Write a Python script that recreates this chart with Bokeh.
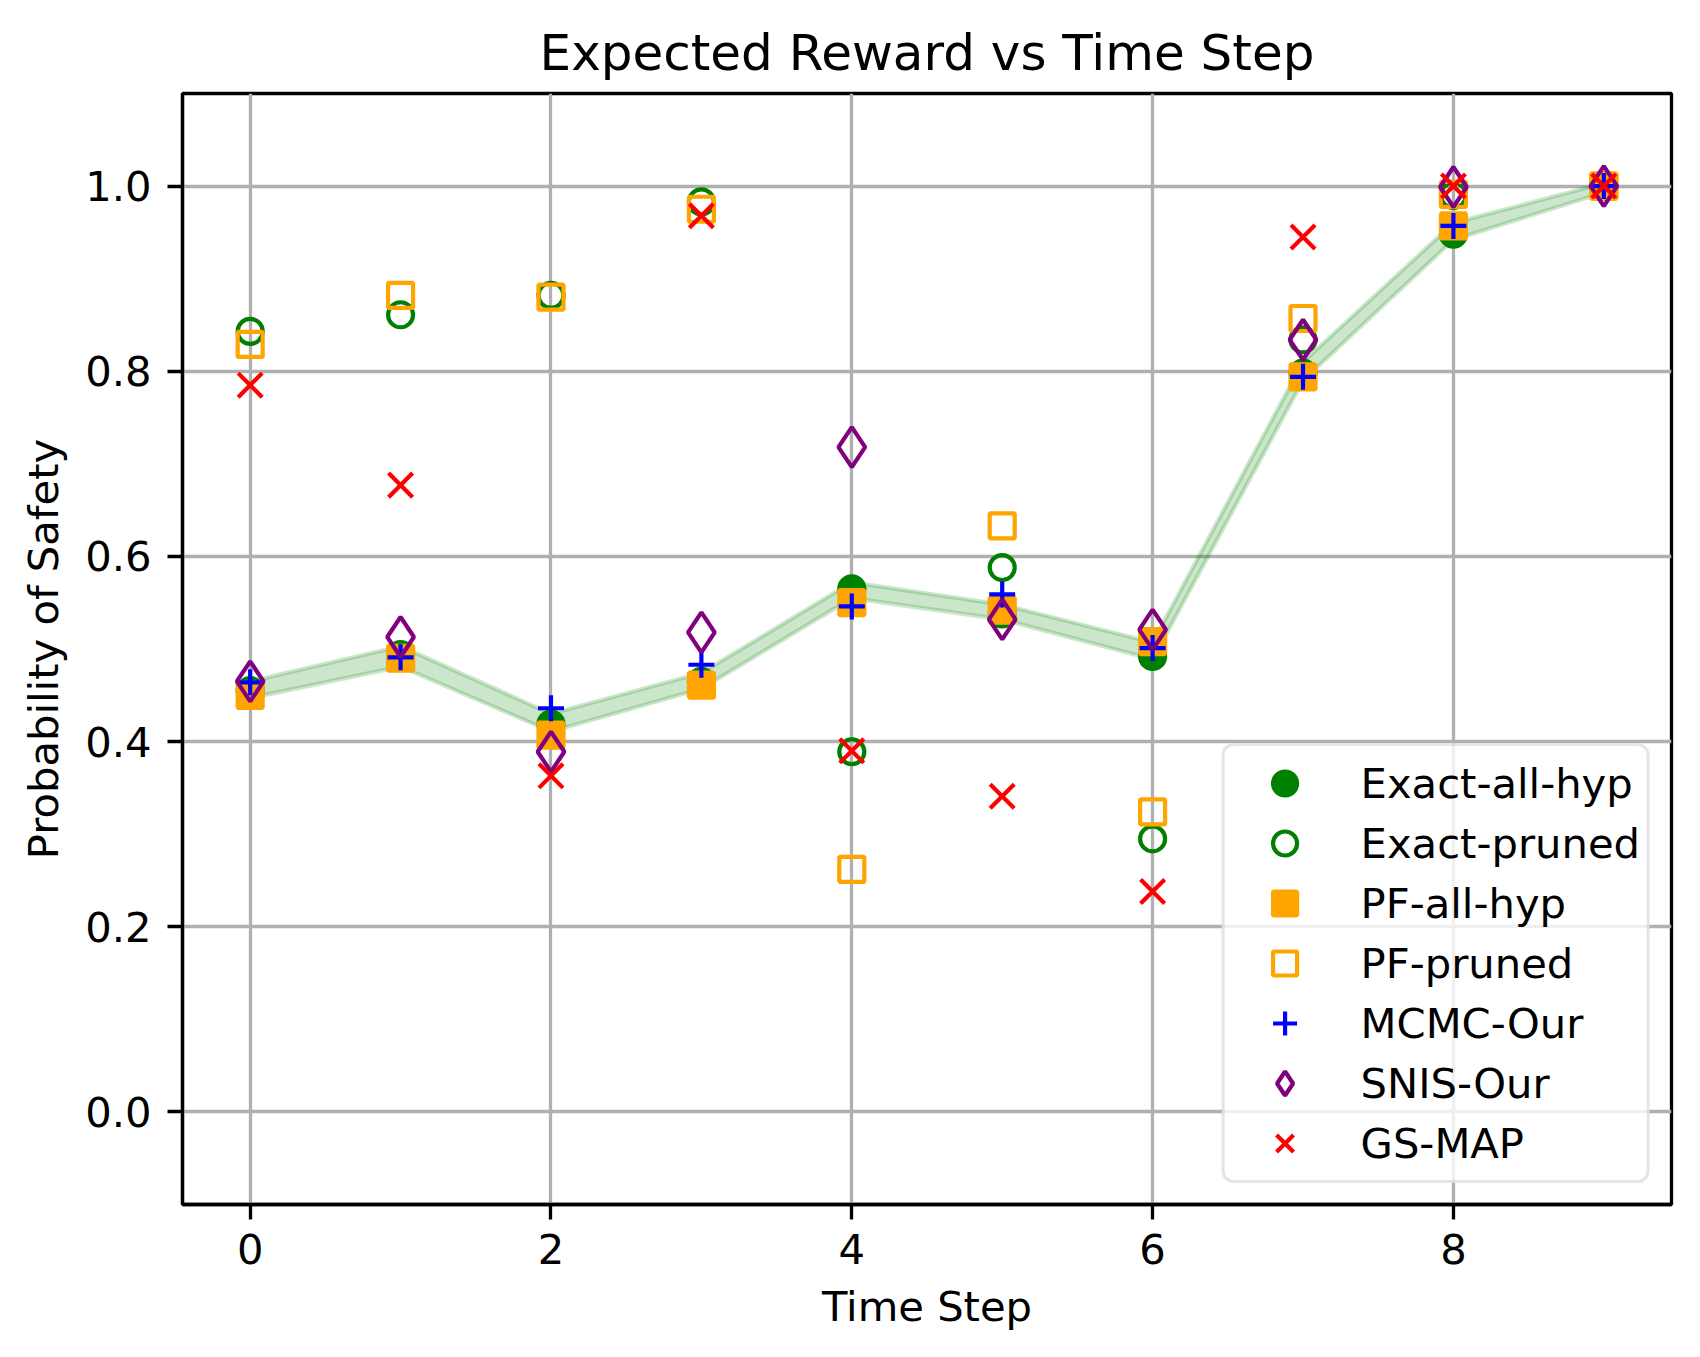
from bokeh.plotting import figure
from bokeh.models import Range1d, FixedTicker, PrintfTickFormatter, Legend, LegendItem
from bokeh.embed import file_html
from bokeh.resources import INLINE

# ---- data ----
steps = [0, 1, 2, 3, 4, 5, 6, 7, 8, 9]
exact_all_hyp = [0.455, 0.494, 0.419, 0.465, 0.565, 0.538, 0.492, 0.798, 0.948, 1.000]
exact_pruned = [0.843, 0.861, 0.882, 0.983, 0.389, 0.588, 0.295, 0.834, 0.990, 1.000]
pf_all_hyp = [0.450, 0.490, 0.407, 0.461, 0.550, 0.542, 0.508, 0.794, 0.957, 1.000]
pf_pruned = [0.829, 0.882, 0.880, 0.975, 0.262, 0.633, 0.324, 0.857, 0.991, 1.000]
mcmc_our = [0.464, 0.491, 0.436, 0.483, 0.546, 0.559, 0.501, 0.794, 0.957, 1.000]
snis_our = [0.465, 0.513, 0.389, 0.518, 0.718, 0.532, 0.521, 0.834, 0.999, 1.000]
gs_map = [0.785, 0.677, 0.363, 0.968, 0.390, 0.341, 0.238, 0.945, 1.000, 1.000]
band_lower = [0.447, 0.481, 0.411, 0.457, 0.555, 0.532, 0.489, 0.790, 0.942, 0.993]
band_upper = [0.465, 0.503, 0.430, 0.474, 0.572, 0.548, 0.507, 0.810, 0.960, 1.003]

x_ticks = [0, 2, 4, 6, 8]
y_ticks = [0.0, 0.2, 0.4, 0.6, 0.8, 1.0]

FONT = "DejaVu Sans"
FS = "41.7px"
LW = 4.2

p = figure(width=1690, height=1350, output_backend="svg", toolbar_location=None,
           x_range=Range1d(-0.45, 9.45), y_range=Range1d(-0.1, 1.1),
           title="Expected Reward vs Time Step",
           x_axis_label="Time Step", y_axis_label="Probability of Safety")
p.min_border_left = 182
p.min_border_top = 93
p.min_border_right = 19
p.min_border_bottom = 146

p.title.align = "center"
p.title.text_font = FONT
p.title.text_font_size = "50px"
p.title.text_font_style = "normal"
p.title.text_color = "black"
p.title.standoff = 23

p.outline_line_color = "black"
p.outline_line_width = 3.3
p.outline_line_alpha = 1.0

for ax in (p.xaxis[0], p.yaxis[0]):
    ax.axis_line_width = 3.3
    ax.axis_line_color = "black"
    ax.major_tick_line_width = 3.3
    ax.major_tick_line_color = "black"
    ax.major_tick_out = 15
    ax.major_tick_in = 0
    ax.minor_tick_line_color = None
    ax.major_label_text_font = FONT
    ax.major_label_text_font_size = FS
    ax.major_label_text_color = "black"
    ax.axis_label_text_font = FONT
    ax.axis_label_text_font_size = FS
    ax.axis_label_text_font_style = "normal"
    ax.axis_label_text_color = "black"

p.xaxis[0].ticker = FixedTicker(ticks=x_ticks)
p.yaxis[0].ticker = FixedTicker(ticks=y_ticks)
p.yaxis[0].formatter = PrintfTickFormatter(format="%.1f")
p.xaxis[0].major_label_standoff = 14
p.yaxis[0].major_label_standoff = 16
p.xaxis[0].axis_label_standoff = 15
p.yaxis[0].axis_label_standoff = 14

p.xgrid.ticker = FixedTicker(ticks=x_ticks)
p.ygrid.ticker = FixedTicker(ticks=y_ticks)
for g in (p.xgrid[0], p.ygrid[0]):
    g.grid_line_color = "#b0b0b0"
    g.grid_line_width = 3.3

# confidence band
band_x = steps + steps[::-1]
band_y = band_upper + band_lower[::-1]
p.patch(band_x, band_y, fill_color="green", fill_alpha=0.2,
        line_color="green", line_alpha=0.2, line_width=LW)

r1 = p.scatter(steps, exact_all_hyp, marker="circle", size=25, fill_color="green",
               line_color="green", line_width=LW)
r2 = p.scatter(steps, exact_pruned, marker="circle", size=25, fill_color=None,
               line_color="green", line_width=LW)
r3 = p.scatter(steps, pf_all_hyp, marker="square", size=25, fill_color="orange",
               line_color="orange", line_width=LW)
r4 = p.scatter(steps, pf_pruned, marker="square", size=25, fill_color=None,
               line_color="orange", line_width=LW)
r5 = p.scatter(steps, mcmc_our, marker="cross", size=26, line_color="blue", line_width=LW)
r6 = p.scatter(steps, snis_our, marker="diamond", size=40, fill_color=None,
               line_color="purple", line_width=LW)
r7 = p.scatter(steps, gs_map, marker="x", size=34, line_color="red", line_width=LW)

legend = Legend(items=[
    LegendItem(label="Exact-all-hyp", renderers=[r1]),
    LegendItem(label="Exact-pruned", renderers=[r2]),
    LegendItem(label="PF-all-hyp", renderers=[r3]),
    LegendItem(label="PF-pruned", renderers=[r4]),
    LegendItem(label="MCMC-Our", renderers=[r5]),
    LegendItem(label="SNIS-Our", renderers=[r6]),
    LegendItem(label="GS-MAP", renderers=[r7]),
], location="bottom_right")
legend.margin = 21
legend.padding = 7
legend.spacing = 0
legend.glyph_height = 60
legend.glyph_width = 106
legend.label_height = 60
legend.label_standoff = 23
legend.label_text_font = FONT
legend.label_text_font_size = FS
legend.label_text_color = "black"
legend.border_line_color = "#cccccc"
legend.border_line_width = 3
legend.background_fill_alpha = 0.8
if "border_radius" in Legend.properties():
    legend.border_radius = 12
p.add_layout(legend)

open("out.html", "w").write(file_html(p, INLINE))
